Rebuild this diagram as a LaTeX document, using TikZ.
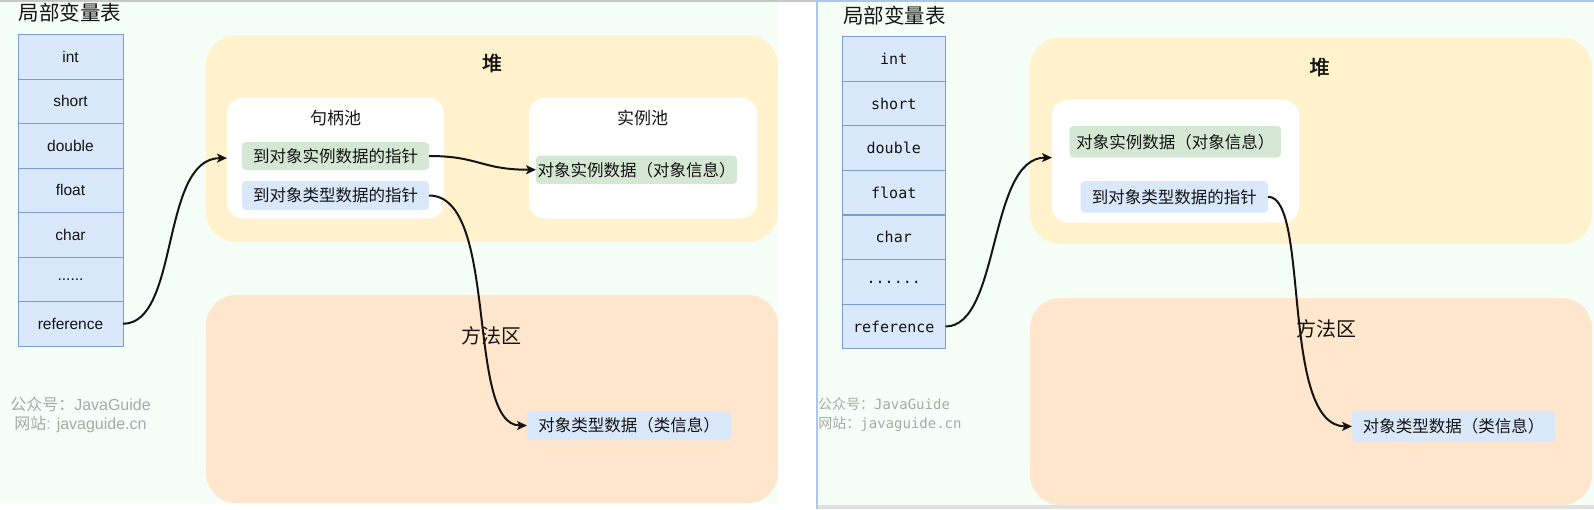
\documentclass[tikz,border=0pt]{standalone}
\usepackage{fontspec}
\setmainfont{Liberation Sans}
\newfontfamily\cjk[AutoFakeBold=2]{Noto Sans CJK SC}
\newfontfamily\mono{DejaVu Sans Mono}
\usetikzlibrary{arrows.meta}
\definecolor{mint}{HTML}{F5FFF8}
\definecolor{heapc}{HTML}{FFF2CC}
\definecolor{methc}{HTML}{FFE6CC}
\definecolor{greenc}{HTML}{D5E8D4}
\definecolor{bluec}{HTML}{DAE8FC}
\definecolor{cellline}{HTML}{7A9CCF}
\definecolor{ink}{HTML}{141414}
\definecolor{wm}{HTML}{A8A8A8}
\definecolor{sepblue}{HTML}{A9C8EC}
\begin{document}
\begin{tikzpicture}[x=1pt,y=-1pt,
  every node/.style={inner sep=0pt, outer sep=0pt, text=ink},
  cell/.style={draw=cellline, fill=bluec, line width=1pt, minimum height=44.5pt, font=\fontsize{15.5}{18}\selectfont},
  mcell/.style={cell, font=\mono\fontsize{15}{18}\selectfont},
  region/.style={rounded corners=30pt},
  heapbox/.style={region, fill=heapc},
  methbox/.style={region, fill=methc},
  poolbox/.style={fill=white, rounded corners=16pt},
  gbox/.style={fill=greenc, rounded corners=4pt, font=\cjk\fontsize{16.5}{20}\selectfont},
  bbox/.style={fill=bluec, rounded corners=4pt, font=\cjk\fontsize{16.5}{20}\selectfont},
  title/.style={font=\cjk\fontsize{20.5}{24}\selectfont},
  regtitle/.style={font=\cjk\fontsize{20}{24}\selectfont},
  pooltitle/.style={font=\cjk\fontsize{17}{20}\selectfont},
  wmark/.style={text=wm, font=\fontsize{16}{19}\selectfont},
  wmarkm/.style={text=wm, font=\mono\fontsize{14}{17}\selectfont},
  link/.style={draw=ink, line width=2pt, -{Stealth[length=10pt,width=9pt,inset=2.5pt]}}
]
\useasboundingbox (0,0) rectangle (1594,509);
% backgrounds
\fill[white] (0,0) rectangle (1594,509);
\fill[mint] (0,2) rectangle (778,503);
\fill[mint] (818,2) rectangle (1594,505);
\fill[black!12] (818,505) rectangle (1594,509);
\draw[black!22, line width=1.5pt] (0,0.75) -- (817,0.75);
\draw[sepblue, line width=1.5pt] (818,0.75) -- (1594,0.75);
\draw[sepblue, line width=2pt] (817,0) -- (817,509);

% ================= LEFT PANEL =================
\node[title] (titleL) at (70,13) {局部变量表};
\node[cell, minimum width=105pt] (l1) at (70.5,56.75) {int};
\node[cell, minimum width=105pt] (l2) at (70.5,101.25) {short};
\node[cell, minimum width=105pt] (l3) at (70.5,145.75) {double};
\node[cell, minimum width=105pt] (l4) at (70.5,190.25) {float};
\node[cell, minimum width=105pt] (l5) at (70.5,234.75) {char};
\node[cell, minimum width=105pt] (l6) at (70.5,279.25) {......};
\node[cell, minimum width=105pt] (l7) at (70.5,323.75) {reference};

\node[heapbox, minimum width=572pt, minimum height=206.5pt] (heapL) at (492,138.75) {};
\node[methbox, minimum width=572pt, minimum height=208pt] (methL) at (492,399) {};
\node[regtitle] (heapLt) at (492,63) {\bfseries 堆};
\node[regtitle] (methLt) at (491,335.5) {方法区};

\node[poolbox, minimum width=217pt, minimum height=121pt] (poolH) at (335.5,158.1) {};
\node[pooltitle] (poolHt) at (335.5,118) {句柄池};
\node[gbox, minimum width=187pt, minimum height=28pt] (ptrI) at (335.5,156) {到对象实例数据的指针};
\node[bbox, minimum width=187pt, minimum height=29pt] (ptrT) at (335.5,195.5) {到对象类型数据的指针};

\node[poolbox, minimum width=228pt, minimum height=121pt] (poolI) at (643,158.1) {};
\node[pooltitle] (poolIt) at (642.5,118) {实例池};
\node[gbox, minimum width=201pt, minimum height=28.5pt] (instD) at (636.5,169.75) {对象实例数据（对象信息）};

\node[bbox, minimum width=204pt, minimum height=29pt] (classL) at (629,425.5) {对象类型数据（类信息）};

\node[wmark] (wmL1) at (80.5,404) {{\cjk 公众号：}JavaGuide};
\node[wmark] (wmL2) at (80.5,424) {{\cjk 网站}: javaguide.cn};

\path[link] (l7.east) .. controls +(57,0) and +(-67,0) .. (poolH.west);
\path[link] (ptrI.east) .. controls +(50,0) and +(-55,0) .. (instD.west);
\path[link] (ptrT.east) .. controls +(71,0) and +(-62,0) .. (classL.west);

% ================= RIGHT PANEL =================
\node[title] (titleR) at (894.5,16) {局部变量表};
\node[mcell, minimum width=103.5pt] (r1) at (893.75,58.9) {int};
\node[mcell, minimum width=103.5pt] (r2) at (893.75,103.5) {short};
\node[mcell, minimum width=103.5pt] (r3) at (893.75,148.1) {double};
\node[mcell, minimum width=103.5pt] (r4) at (893.75,192.7) {float};
\node[mcell, minimum width=103.5pt] (r5) at (893.75,237.3) {char};
\node[mcell, minimum width=103.5pt] (r6) at (893.75,281.9) {......};
\node[mcell, minimum width=103.5pt] (r7) at (893.75,326.5) {reference};

\node[heapbox, minimum width=562pt, minimum height=206.4pt] (heapR) at (1311,140.8) {};
\node[methbox, minimum width=562pt, minimum height=207pt] (methR) at (1311,401.5) {};
\node[regtitle] (heapRt) at (1319.5,67) {\bfseries 堆};
\node[regtitle] (methRt) at (1326.7,328.4) {方法区};

\node[poolbox, minimum width=247pt, minimum height=123pt] (wbox) at (1175.5,161.1) {};
\node[gbox, minimum width=211.5pt, minimum height=31.6pt] (instR) at (1175.25,141.8) {对象实例数据（对象信息）};
\node[bbox, minimum width=187.4pt, minimum height=31.5pt] (ptrTR) at (1174.3,196.75) {到对象类型数据的指针};
\node[bbox, minimum width=203pt, minimum height=31.3pt] (classR) at (1453.5,426.35) {对象类型数据（类信息）};

\node[wmarkm] (wmR1) at (884,404) {{\cjk 公众号：}JavaGuide};
\node[wmarkm] (wmR2) at (890,424) {{\cjk 网站：}javaguide.cn};

\path[link] (r7.east) .. controls +(55,0) and +(-64,0) .. ([yshift=3.5pt]wbox.west);
\path[link] (ptrTR.east) .. controls +(42,0) and +(-72,0) .. (classR.west);
\end{tikzpicture}
\end{document}
